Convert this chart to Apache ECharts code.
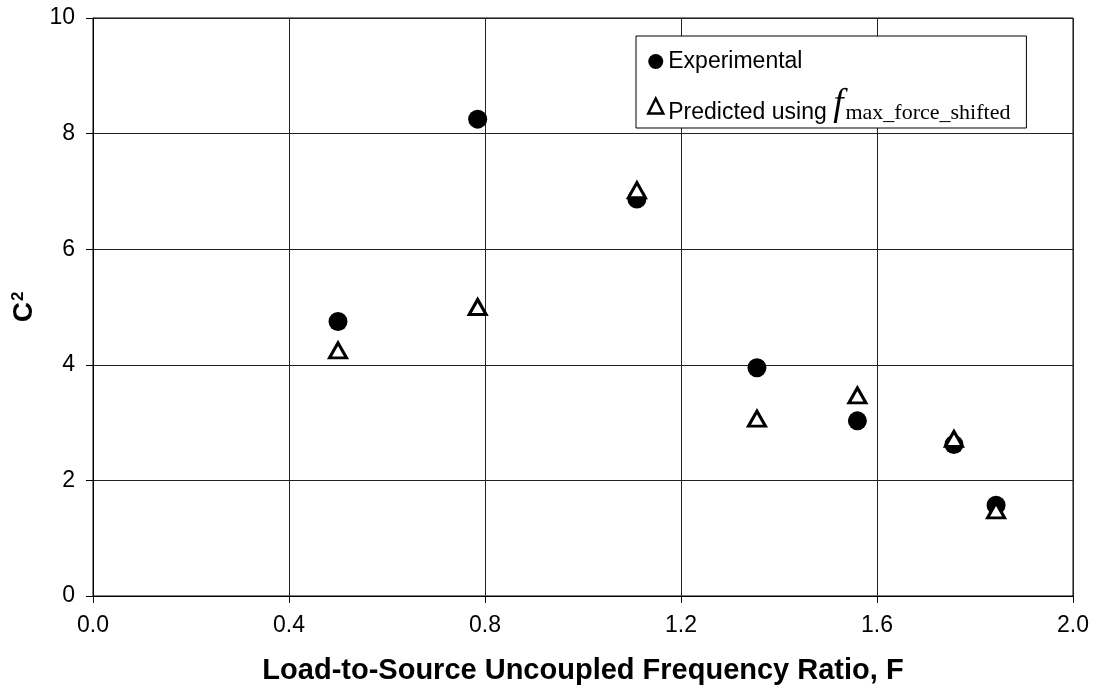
<!DOCTYPE html>
<html>
<head>
<meta charset="utf-8">
<script src="https://cdn.jsdelivr.net/npm/echarts@6/dist/echarts.min.js"></script>
<style>
  html, body { margin: 0; padding: 0; background: #fff; }
  #chart { width: 1099px; height: 692px; }
</style>
</head>
<body>
<div id="chart"></div>
<script>
// Load-to-source uncoupled frequency ratio F for each test case
const freqRatio = [0.50, 0.785, 1.11, 1.355, 1.56, 1.757, 1.843];
// Measured C^2
const experimental = [4.75, 8.25, 6.87, 3.95, 3.03, 2.62, 1.57];
// C^2 predicted with f_max_force_shifted
const predicted = [4.25, 5.00, 7.02, 3.07, 3.47, 2.72, 1.48];

const xTicks = [0.0, 0.4, 0.8, 1.2, 1.6, 2.0];
const yTicks = [0, 2, 4, 6, 8, 10];

const SANS = '"Liberation Sans", Arial, sans-serif';
const SERIF = '"Liberation Serif", "Times New Roman", serif';

const pairs = (xs, ys) => xs.map((x, i) => [x, ys[i]]);

const chart = echarts.init(document.getElementById('chart'), null, { renderer: 'canvas' });

chart.setOption({
  animation: false,
  backgroundColor: '#fff',
  grid: {
    left: 93, right: 26, top: 18, bottom: 96,
    show: true, borderColor: '#000', borderWidth: 1, backgroundColor: 'transparent'
  },
  xAxis: {
    type: 'value',
    min: xTicks[0], max: xTicks[xTicks.length - 1], interval: 0.4,
    name: 'Load-to-Source Uncoupled Frequency Ratio, F',
    nameLocation: 'middle', nameGap: 60,
    nameTextStyle: { fontFamily: SANS, fontWeight: 'bold', fontSize: 29, color: '#000' },
    axisLine: { show: true, onZero: false, lineStyle: { color: '#000', width: 1 } },
    axisTick: { show: true, inside: false, length: 7, lineStyle: { color: '#000' } },
    axisLabel: {
      margin: 18, fontFamily: SANS, fontSize: 23, color: '#000',
      formatter: v => v.toFixed(1)
    },
    splitLine: { show: true, lineStyle: { color: '#222', width: 1 } }
  },
  yAxis: {
    type: 'value',
    min: yTicks[0], max: yTicks[yTicks.length - 1], interval: 2,
    name: '{c|C}{s|2}',
    nameLocation: 'middle', nameGap: 45, nameRotate: 90,
    nameTextStyle: {
      fontFamily: SANS, fontWeight: 'bold', fontSize: 28, color: '#000',
      rich: {
        c: { fontFamily: SANS, fontWeight: 'bold', fontSize: 28, color: '#000', lineHeight: 30 },
        s: { fontFamily: SANS, fontWeight: 'bold', fontSize: 17, color: '#000', lineHeight: 30, verticalAlign: 'top', padding: [0, 0, 10, 1] }
      }
    },
    axisLine: { show: true, onZero: false, lineStyle: { color: '#000', width: 1 } },
    axisTick: { show: true, inside: false, length: 7, lineStyle: { color: '#000' } },
    axisLabel: { margin: 18, fontFamily: SANS, fontSize: 23, color: '#000' },
    splitLine: { show: true, lineStyle: { color: '#222', width: 1 } }
  },
  legend: {
    orient: 'vertical',
    left: 636, top: 36,
    padding: [14, 16, 4, 11],
    itemGap: 14,
    itemWidth: 15, itemHeight: 15,
    backgroundColor: '#fff',
    borderColor: '#000', borderWidth: 1,
    textStyle: {
      fontFamily: SANS, fontSize: 23, color: '#000',
      rich: {
        a: { fontFamily: SANS, fontSize: 23, color: '#000', lineHeight: 36, verticalAlign: 'bottom' },
        f: { fontFamily: SERIF, fontStyle: 'italic', fontSize: 37, color: '#000', lineHeight: 36, verticalAlign: 'bottom' },
        s: { fontFamily: SERIF, fontSize: 22, color: '#000', lineHeight: 36, verticalAlign: 'bottom', padding: [0, 0, 0, 2] }
      }
    },
    formatter: function (name) {
      if (name === 'Experimental') return name;
      return '{a|Predicted using }{f|f}{s|max_force_shifted}';
    },
    data: [
      { name: 'Experimental', icon: 'circle', itemStyle: { color: '#000', borderWidth: 0, opacity: 1 } },
      { name: 'Predicted', icon: 'triangle', itemStyle: { color: '#fff', borderColor: '#000', borderWidth: 2.5, opacity: 1 } }
    ]
  },
  series: [
    {
      name: 'Experimental',
      type: 'scatter',
      symbol: 'circle',
      symbolSize: 19,
      itemStyle: { color: '#000', opacity: 1 },
      data: pairs(freqRatio, experimental),
      z: 3
    },
    {
      name: 'Predicted',
      type: 'scatter',
      symbol: 'triangle',
      symbolSize: [17, 15],
      itemStyle: { color: '#fff', borderColor: '#000', borderWidth: 3, opacity: 1 },
      data: pairs(freqRatio, predicted),
      z: 4
    }
  ]
});
</script>
</body>
</html>
